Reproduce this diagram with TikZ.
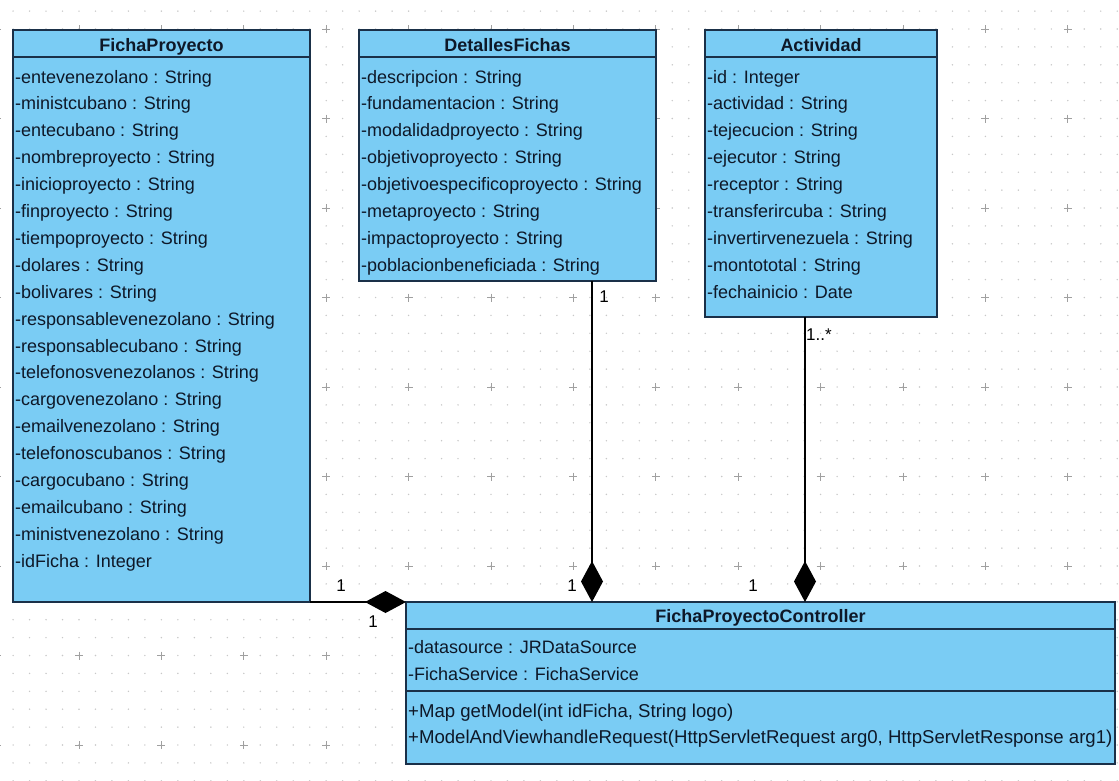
\documentclass[tikz,border=0pt]{standalone}
\usepackage{fontspec}
\setmainfont{Liberation Sans}
\usetikzlibrary{arrows.meta}
\definecolor{boxfill}{RGB}{122,204,244}
\definecolor{boxline}{RGB}{26,48,72}
\definecolor{txt}{RGB}{14,24,40}
\definecolor{dotc}{RGB}{200,200,200}
\definecolor{crossc}{RGB}{160,160,160}
\begin{document}
\begin{tikzpicture}[x=1pt,y=-1pt,
  classbox/.style={draw=boxline, line width=2pt, fill=boxfill, anchor=north west, inner sep=0pt, outer sep=0pt},
  sepline/.style={draw=boxline, line width=2pt},
  attr/.style={anchor=base west, inner sep=0pt, text=txt, font=\fontsize{18}{20}\selectfont},
  meth/.style={attr, font=\fontsize{18.6}{20}\selectfont},
  head/.style={anchor=base, inner sep=0pt, text=txt, font=\fontsize{18}{20}\selectfont\bfseries},
  mult/.style={anchor=base, inner sep=0pt, text=black, font=\fontsize{17}{19}\selectfont},
  comp/.style={draw=black, line width=1.6pt, -{Diamond[length=41pt,width=22pt,fill=black]}}]
\useasboundingbox (0,0) rectangle (1119,780);
\fill[white] (0,0) rectangle (1119,780);
% background grid
\foreach \i in {0,...,68}{\foreach \j in {0,...,43}{\fill[dotc] ({-3.4+16.48*\i},{11.1+17.9*\j}) circle[radius=0.8pt];}}
\foreach \i in {0,...,13}{\foreach \j in {0,...,8}{%
  \draw[crossc, line width=0.8pt] ({-3.4+82.4*\i-4},{29+89.5*\j}) -- ++(8,0) ({-3.4+82.4*\i},{29+89.5*\j-4}) -- ++(0,8);}}
% FichaProyecto
\node[classbox, minimum width=297pt, minimum height=572pt] (fp) at (13,30) {};
\draw[sepline] ([yshift=-27pt]fp.north west) -- ([yshift=-27pt]fp.north east);
\node[head] (fph) at ([yshift=-21pt]fp.north) {FichaProyecto};
\foreach \t [count=\k] in {-entevenezolano : String,-ministcubano : String,-entecubano : String,-nombreproyecto : String,-inicioproyecto : String,-finproyecto : String,-tiempoproyecto : String,-dolares : String,-bolivares : String,-responsablevenezolano : String,-responsablecubano : String,-telefonosvenezolanos : String,-cargovenezolano : String,-emailvenezolano : String,-telefonoscubanos : String,-cargocubano : String,-emailcubano : String,-ministvenezolano : String,-idFicha : Integer}
  {\node[attr] (fpa\k) at (15,{83+26.9*(\k-1)}) {\t};}
% DetallesFichas
\node[classbox, minimum width=297pt, minimum height=251pt] (df) at (359,30) {};
\draw[sepline] ([yshift=-27pt]df.north west) -- ([yshift=-27pt]df.north east);
\node[head] (dfh) at ([yshift=-21pt]df.north) {DetallesFichas};
\foreach \t [count=\k] in {-descripcion : String,-fundamentacion : String,-modalidadproyecto : String,-objetivoproyecto : String,-objetivoespecificoproyecto : String,-metaproyecto : String,-impactoproyecto : String,-poblacionbeneficiada : String}
  {\node[attr] (dfa\k) at (361,{83+26.9*(\k-1)}) {\t};}
% Actividad
\node[classbox, minimum width=232pt, minimum height=287pt] (ac) at (705,30) {};
\draw[sepline] ([yshift=-27pt]ac.north west) -- ([yshift=-27pt]ac.north east);
\node[head] (ach) at ([yshift=-21pt]ac.north) {Actividad};
\foreach \t [count=\k] in {-id : Integer,-actividad : String,-tejecucion : String,-ejecutor : String,-receptor : String,-transferircuba : String,-invertirvenezuela : String,-montototal : String,-fechainicio : Date}
  {\node[attr] (aca\k) at (707,{83+26.9*(\k-1)}) {\t};}
% FichaProyectoController
\node[classbox, minimum width=709pt, minimum height=162pt] (ctl) at (406,602) {};
\draw[sepline] ([yshift=-27pt]ctl.north west) -- ([yshift=-27pt]ctl.north east);
\draw[sepline] ([yshift=-89pt]ctl.north west) -- ([yshift=-89pt]ctl.north east);
\node[head] (ctlh) at ([yshift=-20pt]ctl.north) {FichaProyectoController};
\node[attr] (ctla1) at (408,653) {-datasource : JRDataSource};
\node[attr] (ctla2) at (408,680) {-FichaService : FichaService};
\node[meth] (ctlm1) at (408,717) {+Map getModel(int idFicha, String logo)};
\node[meth] (ctlm2) at (408,743) {+ModelAndViewhandleRequest(HttpServletRequest arg0, HttpServletResponse arg1)};
% connectors
\draw[comp] (fp.south east) -- (ctl.north west);
\coordinate (dfc) at ([xshift=233pt]df.south west);
\draw[comp] (dfc) -- (dfc |- ctl.north);
\coordinate (acc) at ([xshift=100pt]ac.south west);
\draw[comp] (acc) -- (acc |- ctl.north);
% multiplicities
\node[mult] (m1) at (341,591) {1};
\node[mult] (m2) at (373,627) {1};
\node[mult] (m3) at (604,302) {1};
\node[mult] (m4) at (572,591) {1};
\node[mult, anchor=base west] (m5) at (806,340) {1..*};
\node[mult] (m6) at (753,591) {1};
\end{tikzpicture}
\end{document}
